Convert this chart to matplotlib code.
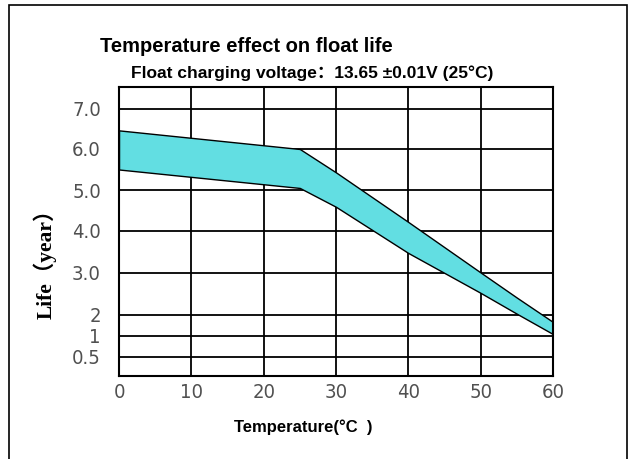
import numpy as np
import matplotlib
matplotlib.use("Agg")
import matplotlib.pyplot as plt
from matplotlib.patches import Rectangle

# band (temperature in °C, life in years)
temp = [0, 25, 30, 40, 50, 55, 60]
life_upper = [6.46, 6.0, 5.43, 4.22, 3.0, 2.41, 1.66]
life_lower = [5.5, 5.05, 4.59, 3.47, 2.52, 2.03, 1.07]

x_ticks = [0, 10, 20, 30, 40, 50, 60]
y_ticks = [0.5, 1, 2, 3, 4, 5, 6, 7]
y_labels = ["0.5", "1", "2", "3.0", "4.0", "5.0", "6.0", "7.0"]

# the life axis of the original is not evenly spaced: knots of value -> height
scale_vals = [0, 0.5, 1, 2, 3, 4, 5, 6, 7, 7.54]
scale_pos = [0, 19, 40.5, 61, 103.5, 145, 186, 227, 267.5, 289]


def fwd(v):
    return np.interp(v, scale_vals, scale_pos)


def inv(p):
    return np.interp(p, scale_pos, scale_vals)


fig = plt.figure(figsize=(6.35, 4.59), dpi=100)
ax = fig.add_axes([119 / 635, 1 - 376 / 459, 434 / 635, 289 / 459])

ax.set_yscale("function", functions=(fwd, inv))
ax.fill_between(temp, life_lower, life_upper, facecolor="#62DEE2",
                edgecolor="black", linewidth=1.0, zorder=3)

ax.set_xlim(0, 60)
ax.set_ylim(0, 7.54)
ax.set_xticks(x_ticks)
ax.set_yticks(y_ticks)
ax.set_yticklabels(y_labels)
ax.minorticks_off()
ax.grid(True, color="black", linewidth=1.3, zorder=1)
ax.set_axisbelow(True)
for s in ax.spines.values():
    s.set_linewidth(1.5)
    s.set_zorder(4)

tick_font = dict(family=["DejaVu Sans"], size=14.5, stretch="condensed",
                 color="#505050", weight="light")
ax.tick_params(length=0)
ax.tick_params(axis="y", pad=13)
ax.tick_params(axis="x", pad=5)
for lab in ax.get_xticklabels() + ax.get_yticklabels():
    lab.set(**tick_font)

fig.text(100 / 635, 1 - 47 / 459, "Temperature effect on float life",
         family=["Liberation Sans", "DejaVu Sans"], weight="bold", size=14.5,
         va="center", ha="left")
fig.text(131 / 635, 1 - 73 / 459, "Float charging voltage：13.65 ±0.01V (25°C)",
         family=["Liberation Sans", "Noto Sans CJK SC"], weight="bold", size=12.5,
         va="center", ha="left")
fig.text(303 / 635, 1 - 427 / 459, "Temperature(°C  )",
         family=["Liberation Sans", "DejaVu Sans"], weight="bold", size=12,
         va="center", ha="center")
fig.text(45 / 635, 1 - 259 / 459, "Life（year）", rotation=90,
         family=["Liberation Serif", "Noto Sans CJK SC"], weight="bold", size=15.5,
         va="center", ha="center")

fig.patches.append(Rectangle((9 / 635, -0.02), 618 / 635, 1 - 5 / 459 + 0.02,
                             transform=fig.transFigure, fill=False,
                             edgecolor="black", linewidth=1.2))

fig.savefig("out.png", dpi=100)
